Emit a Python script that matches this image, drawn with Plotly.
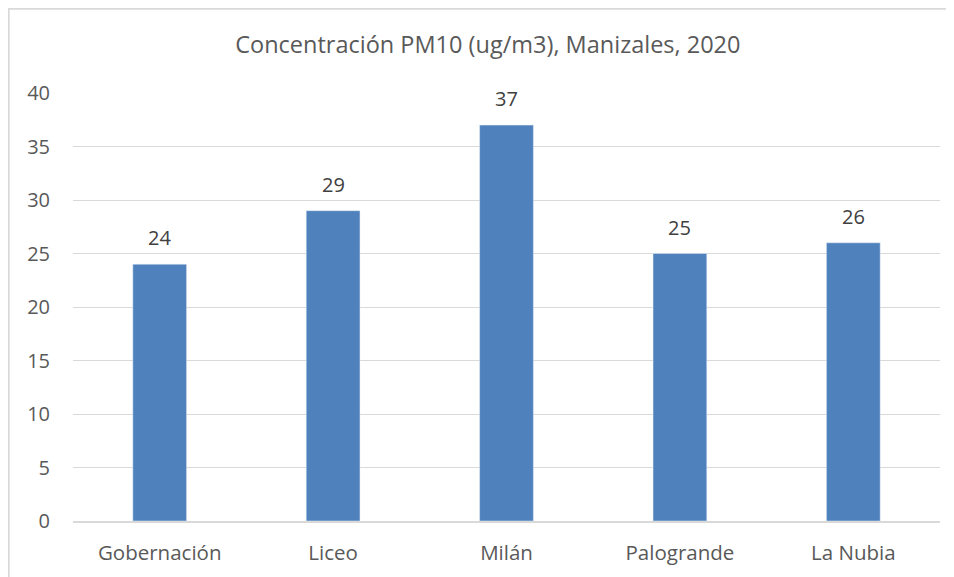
import plotly.graph_objects as go

estaciones = ["Gobernación", "Liceo", "Milán", "Palogrande", "La Nubia"]
pm10 = [24, 29, 37, 25, 26]
y_ticks = [0, 5, 10, 15, 20, 25, 30, 35, 40]

gris = "#595959"

fig = go.Figure(go.Bar(
    x=estaciones, y=pm10,
    marker_color="#4f81bd",
    width=0.31,
))

# etiquetas de datos encima de cada barra
for est, val in zip(estaciones, pm10):
    fig.add_annotation(x=est, y=val, text=str(val), showarrow=False,
                       yanchor="bottom", yshift=11,
                       font=dict(size=20, color="#404040", family="Open Sans, sans-serif"))

fig.update_layout(
    width=954, height=577,
    margin=dict(l=65, r=22, t=85, b=64),
    plot_bgcolor="white", paper_bgcolor="white",
    font=dict(family="Open Sans, sans-serif", color=gris, size=20),
    title=dict(text="Concentración PM10 (ug/m3), Manizales, 2020",
               x=0.503, xanchor="center", y=1 - 37 / 577, yanchor="middle",
               font=dict(size=23.5, color=gris)),
    xaxis=dict(showgrid=False, showline=True, linecolor="#d9d9d9", linewidth=1.5,
               ticks="", ticklabelstandoff=13,
               tickfont=dict(size=20.5, color=gris)),
    yaxis=dict(range=[0, 40], tickvals=y_ticks, showgrid=True, gridcolor="#d9d9d9",
               gridwidth=1, zeroline=False, ticks="", ticklabelstandoff=22,
               tickfont=dict(size=20, color=gris)),
    showlegend=False,
    shapes=[dict(type="rect", xref="paper", yref="paper",
                 x0=-0.0742, x1=1.05, y0=-0.3, y1=1.1969,
                 line=dict(color="#d9d9d9", width=2))],
)

fig.write_html("out.html")
